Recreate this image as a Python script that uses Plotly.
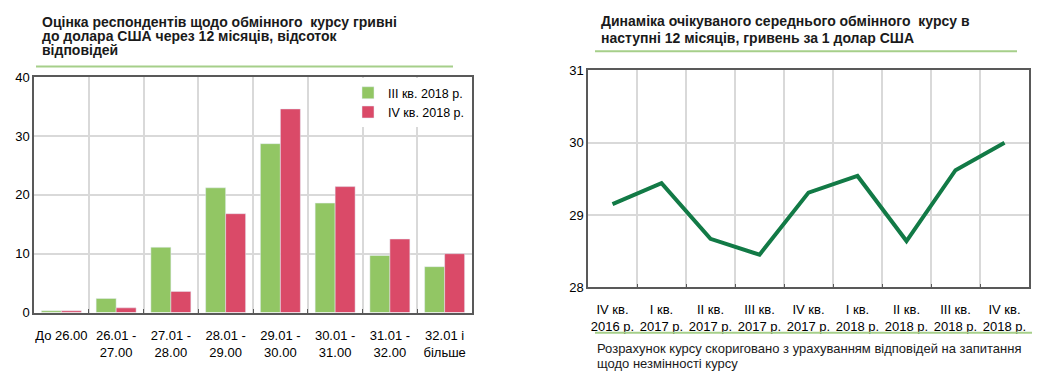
import plotly.graph_objects as go

# ---- data ----
ranges = ["До 26.00", "26.01 -<br>27.00", "27.01 -<br>28.00", "28.01 -<br>29.00",
          "29.01 -<br>30.00", "30.01 -<br>31.00", "31.01 -<br>32.00", "32.01 і<br>більше"]
q3_2018 = [0.3, 2.4, 11.1, 21.2, 28.7, 18.6, 9.7, 7.8]
q4_2018 = [0.3, 0.8, 3.6, 16.8, 34.6, 21.4, 12.5, 10.0]

quarters = ["IV кв.<br>2016 р.", "I кв.<br>2017 р.", "II кв.<br>2017 р.", "III кв.<br>2017 р.",
            "IV кв.<br>2017 р.", "I кв.<br>2018 р.", "II кв.<br>2018 р.", "III кв.<br>2018 р.",
            "IV кв.<br>2018 р."]
expected_rate = [29.15, 29.44, 28.67, 28.45, 29.31, 29.54, 28.64, 29.62, 30.0]

W, H = 1042, 384
FONT = "Liberation Sans, Arial, sans-serif"
GREEN_BAR = "#92C664"
RED_BAR = "#DA4A68"
LINE_GREEN = "#127A46"
SEP_GREEN = "#A6CF8A"
GRID = "#D9D9D9"
FRAME = "#595959"

fig = go.Figure()
fig.add_trace(go.Bar(x=ranges, y=q3_2018, name="III кв. 2018 р.", marker_color=GREEN_BAR,
                     xaxis="x", yaxis="y"))
fig.add_trace(go.Bar(x=ranges, y=q4_2018, name="IV кв. 2018 р.", marker_color=RED_BAR,
                     xaxis="x", yaxis="y"))
fig.add_trace(go.Scatter(x=quarters, y=expected_rate, mode="lines", showlegend=False,
                         line=dict(color=LINE_GREEN, width=4), xaxis="x2", yaxis="y2"))

def px_x(p):
    return p / W

def px_y(p):
    return 1 - p / H

axis_common = dict(showline=True, mirror=True, linecolor=FRAME, linewidth=1.5,
                   showgrid=True, gridcolor=GRID, gridwidth=1.5,
                   tickfont=dict(family=FONT, size=13, color="#000000"), zeroline=False)

fig.update_layout(
    width=W, height=H, margin=dict(l=0, r=0, t=0, b=0),
    paper_bgcolor="white", plot_bgcolor="white",
    font=dict(family=FONT, size=12, color="#000000"),
    barmode="group", bargap=0.27, bargroupgap=0,
    xaxis=dict(domain=[px_x(34), px_x(472)], anchor="y", type="category", tickson="boundaries",
               ticks="inside", ticklen=4, tickcolor=FRAME, tickangle=0, ticklabelstandoff=10,
               **axis_common),
    yaxis=dict(domain=[px_y(318), px_y(73)], anchor="x", range=[0, 40], dtick=10,
               ticks="", **axis_common),
    xaxis2=dict(domain=[px_x(588), px_x(1029)], anchor="y2", type="category", tickson="boundaries",
                ticks="inside", ticklen=4, tickcolor=FRAME, tickangle=0, range=[-0.5, 8.5],
                ticklabelstandoff=9, **axis_common),
    yaxis2=dict(domain=[px_y(291.7), px_y(66)], anchor="x2", range=[28, 31], dtick=1,
                ticks="", **axis_common),
    legend=dict(x=px_x(348), y=px_y(74), xanchor="left", yanchor="top",
                bgcolor="white", font=dict(family=FONT, size=12.5), tracegroupgap=6,
                itemwidth=30),
)

# titles
left_title = ["Оцінка респондентів щодо обмінного  курсу гривні",
              "до долара США через 12 місяців, відсоток",
              "відповідей"]
for i, t in enumerate(left_title):
    fig.add_annotation(text="<b>" + t + "</b>", x=px_x(40), y=px_y(16 + i * 14.5),
                       xref="paper", yref="paper", xanchor="left", yanchor="middle",
                       showarrow=False, font=dict(family=FONT, size=14, color="#1a1a1a"))

right_title = ["Динаміка очікуваного середнього обмінного  курсу в",
               "наступні 12 місяців, гривень за 1 долар США"]
for i, t in enumerate(right_title):
    fig.add_annotation(text="<b>" + t + "</b>", x=px_x(599), y=px_y(15 + i * 17),
                       xref="paper", yref="paper", xanchor="left", yanchor="middle",
                       showarrow=False, font=dict(family=FONT, size=14, color="#1a1a1a"))

note = ["Розрахунок курсу скориговано з урахуванням відповідей на запитання",
        "щодо незмінності курсу"]
for i, t in enumerate(note):
    fig.add_annotation(text=t, x=px_x(595), y=px_y(355 + i * 16),
                       xref="paper", yref="paper", xanchor="left", yanchor="middle",
                       showarrow=False, font=dict(family=FONT, size=13, color="#1a1a1a"))

# separator lines
for (x0, x1, yy) in [(36, 453, 62), (595, 1017, 46), (595, 1032, 339)]:
    fig.add_shape(type="line", xref="paper", yref="paper",
                  x0=px_x(x0), x1=px_x(x1), y0=px_y(yy), y1=px_y(yy),
                  line=dict(color=SEP_GREEN, width=2))

fig.write_html("out.html", config={"displayModeBar": False},
               post_script="document.body.style.margin='0';document.body.style.overflow='hidden';")
